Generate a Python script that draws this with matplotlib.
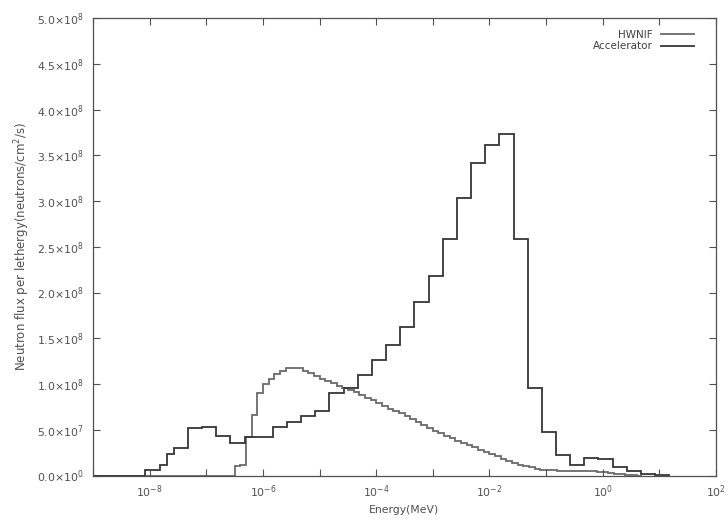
import numpy as np
import matplotlib
matplotlib.use('Agg')
import matplotlib.pyplot as plt

plt.rcParams['font.family'] = ['DejaVu Sans']
plt.rcParams['mathtext.fontset'] = 'dejavusans'

# HWNIF: fine bins, 0.1 decade wide, left edges from 10^-6.5 MeV
hw_start = -6.5
hw_step = 0.1
hw_flux = [0.10, 0.12, 0.42, 0.66, 0.90, 1.00, 1.06, 1.11, 1.14, 1.17,
           1.18, 1.17, 1.14, 1.12, 1.09, 1.06, 1.03, 1.01, 0.98, 0.96,
           0.93, 0.91, 0.88, 0.85, 0.82, 0.79, 0.76, 0.73, 0.70, 0.68,
           0.65, 0.62, 0.58, 0.55, 0.52, 0.49, 0.46, 0.43, 0.41, 0.38,
           0.36, 0.33, 0.31, 0.28, 0.26, 0.23, 0.21, 0.18, 0.16, 0.14,
           0.12, 0.10, 0.09, 0.075, 0.065, 0.06, 0.055, 0.05, 0.05, 0.05,
           0.05, 0.045, 0.045, 0.045, 0.04, 0.035, 0.03, 0.02, 0.012, 0.006,
           0.003, 0.0]

# Accelerator: coarse bins, log10 of the bin edges (MeV)
acc_edges_log = [-8.575, -8.325, -8.075, -7.825, -7.69, -7.575, -7.325, -7.075,
                 -6.825, -6.575, -6.325, -6.075, -5.825, -5.575, -5.325, -5.075,
                 -4.825, -4.575, -4.325, -4.075, -3.825, -3.575, -3.325, -3.075,
                 -2.825, -2.575, -2.325, -2.075, -1.825, -1.575, -1.325, -1.075,
                 -0.825, -0.575, -0.325, -0.075, 0.175, 0.425, 0.675, 0.925, 1.175]
acc_flux = [0.0, 0.0, 0.06, 0.12, 0.235, 0.30, 0.52, 0.53, 0.43, 0.36,
            0.42, 0.42, 0.53, 0.59, 0.65, 0.70, 0.90, 0.96, 1.10, 1.26,
            1.43, 1.62, 1.90, 2.18, 2.58, 3.03, 3.41, 3.61, 3.73, 2.58,
            0.96, 0.48, 0.22, 0.11, 0.19, 0.175, 0.09, 0.045, 0.02, 0.008]

scale = 1e8

hw_edges = 10 ** (hw_start + hw_step * np.arange(len(hw_flux) + 1))
hw_edges = np.concatenate([[1e-9], hw_edges])
hw_vals = np.concatenate([[0.0], np.array(hw_flux)]) * scale

acc_edges = np.concatenate([[1e-9], 10 ** np.array(acc_edges_log)])
acc_vals = np.concatenate([[0.0], np.array(acc_flux)]) * scale

fig = plt.figure(figsize=(7.28, 5.2), dpi=100)
ax = fig.add_axes([93 / 728, 1 - 475.5 / 520, 623 / 728, 457.5 / 520])

ax.stairs(hw_vals, hw_edges, color='#6a6a6a', lw=1.3, label='HWNIF')
ax.stairs(acc_vals, acc_edges, color='#363636', lw=1.3, label='Accelerator')

ax.set_xscale('log')
ax.set_xlim(1e-9, 1e2)
ax.set_ylim(0, 5e8)

xt = 10.0 ** np.arange(-9, 3)
xl = [r'$10^{%d}$' % p if p % 2 == 0 else '' for p in range(-9, 3)]
ax.set_xticks(xt)
ax.set_xticklabels(xl)
ax.xaxis.set_minor_locator(matplotlib.ticker.NullLocator())

yt = np.arange(0, 5.01e8, 5e7)
yl = []
for v in yt:
    if v == 0:
        yl.append(r'0.0$\times$10$^{0}$')
    else:
        e = int(np.floor(np.log10(v)))
        yl.append(r'%.1f$\times$10$^{%d}$' % (v / 10 ** e, e))
ax.set_yticks(yt)
ax.set_yticklabels(yl)

ax.tick_params(direction='in', length=5, width=0.8, top=True, right=True,
               labelsize=7.8, labelcolor='#505050', color='#505050')
ax.tick_params(axis='y', pad=7)
ax.tick_params(axis='x', pad=6)
for s in ax.spines.values():
    s.set_color('#505050')
    s.set_linewidth(0.9)

ax.set_xlabel('Energy(MeV)', fontsize=7.8, color='#505050', labelpad=3)
ax.set_ylabel(r'Neutron flux per lethergy(neutrons/cm$^2$/s)', fontsize=8.5,
              color='#505050', labelpad=3)

ax.legend(loc='upper right', bbox_to_anchor=(0.98, 0.995), frameon=False,
          markerfirst=False, handlelength=3.2, fontsize=7.5, labelspacing=0.15,
          handletextpad=0.8, labelcolor='#404040')

fig.savefig('out.png', dpi=100)
